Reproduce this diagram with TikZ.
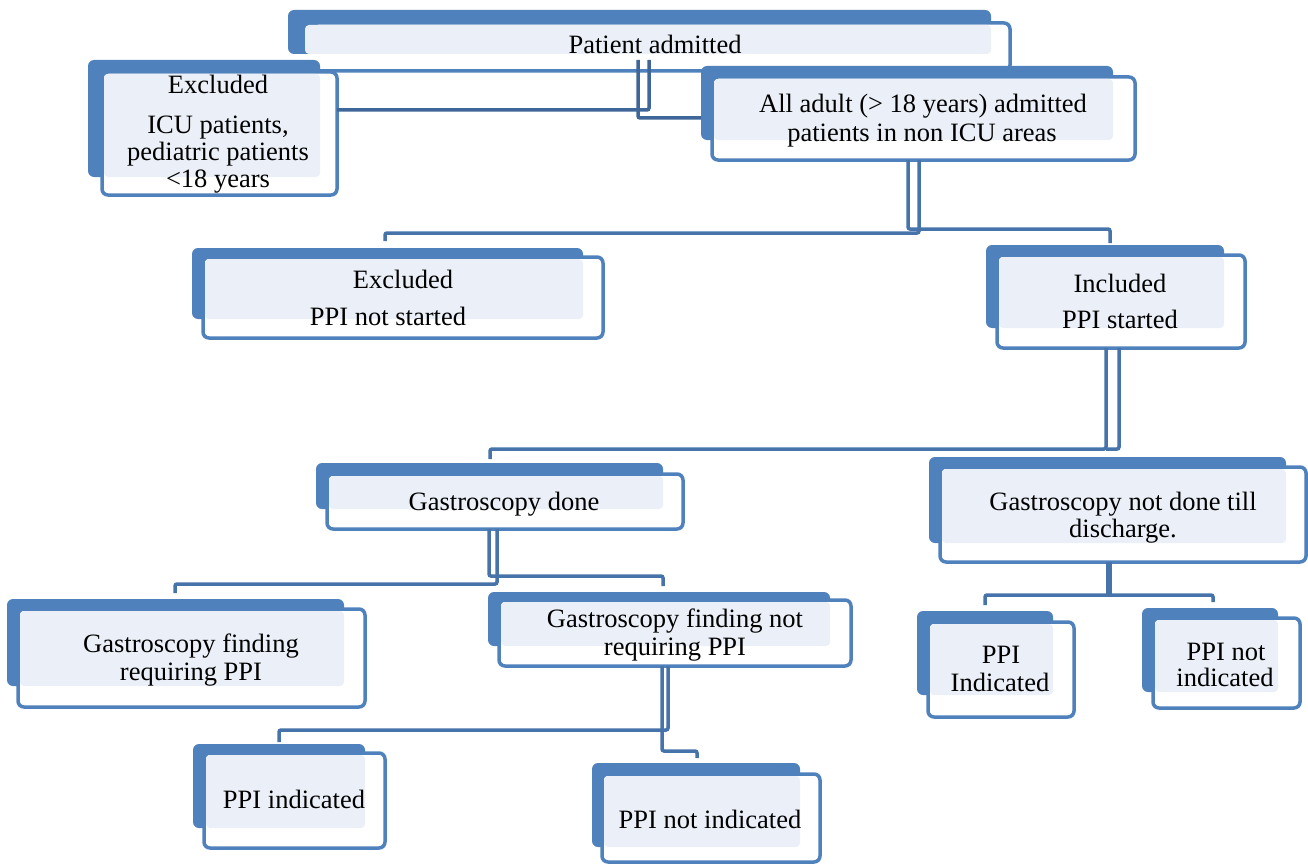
\documentclass[tikz,border=0pt]{standalone}
\usepackage{fontspec}
\setmainfont{Liberation Serif}
\newfontfamily\tnr{Liberation Serif}
\usetikzlibrary{fit,calc}
\definecolor{backblue}{RGB}{79,129,189}
\definecolor{lightfill}{RGB}{235,240,248}
\definecolor{conn}{RGB}{70,115,170}
\definecolor{conndark}{RGB}{62,102,152}
\tikzset{
  backshape/.style={fill=backblue, rounded corners=6pt},
  frontshape/.style={draw=backblue, line width=3.5pt, fill=white, rounded corners=6pt},
  lightshape/.style={fill=lightfill, rounded corners=4pt},
  txt/.style={anchor=base, inner sep=0pt, font=\tnr\fontsize{26.5}{28}\selectfont},
  link/.style={draw=conn, line width=3.5pt, rounded corners=2pt},
  linkdark/.style={link, draw=conndark},
  anchorbox/.style={inner sep=0pt, outer sep=0pt},
}
\newcommand{\flowbox}[9]{%
  \path[backshape] (#2,#3) rectangle (#4,#5);
  \path[frontshape] (#6,#7) rectangle (#8,#9);
  \path[lightshape] (#6+2,#7+2) rectangle (#4,#5);
  \node[anchorbox, fit={(#2,#3) (#4,#5)}] (#1b) {};
  \node[anchorbox, fit={(#6,#7) (#8,#9)}] (#1) {};
}
\begin{document}
\begin{tikzpicture}[x=1pt,y=-1pt]
\useasboundingbox (0,0) rectangle (1308,864);
% top box: its front frame is partly hidden on the left
\path[backshape] (288,10) rectangle (991,54);
\begin{scope}
  \clip (318,0) rectangle (1308,100);
  \path[frontshape] (303,23) rectangle (1010,71);
\end{scope}
\path[lightshape] (305,25) rectangle (991,54);
\node[anchorbox, fit={(288,10) (991,54)}] (PAb) {};
\node[anchorbox, fit={(303,23) (1010,71)}] (PA) {};
% boxes
\flowbox{EXA}{88}{60}{320}{177}{102}{72}{337}{195}
\flowbox{AA}{701}{66}{1113}{140}{712}{77}{1135}{160}
\flowbox{EXB}{192}{248}{583}{319}{203}{257}{603}{338}
\flowbox{IN}{986}{245}{1224}{328}{997}{255}{1245}{348}
\flowbox{GD}{316}{463}{663}{509}{327}{474}{683}{529}
\flowbox{GND}{929}{457}{1286}{543}{940}{467}{1306}{562}
\flowbox{PIA}{917}{611}{1053}{695}{928}{622}{1074}{717}
\flowbox{PNA}{1142}{608}{1278}{692}{1153}{618}{1300}{708}
\flowbox{GF}{7}{599}{344}{686}{18}{609}{365}{707}
\flowbox{GNF}{488}{592}{830}{646}{499}{600}{851}{666}
\flowbox{PIB}{193}{744}{365}{828}{204}{753}{385}{848}
\flowbox{PNB}{592}{763}{800}{847}{602}{774}{820}{862}
% connectors
\draw[linkdark] ($(PAb.south -| 649,0)+(0,6)$) -- (649,110) -- (EXA.east |- 0,110);
\draw[linkdark] ($(PAb.south -| 638,0)+(0,6)$) -- (638,118) -- (AAb.west |- 0,118);
\draw[link] (AA.south -| 919,0) -- (919,233) -- (385,233) -- ($(EXBb.north -| 385,0)+(0,-7)$);
\draw[link] (AA.south -| 908,0) -- (908,229) -- (1110,229) -- ($(INb.north -| 1110,0)+(0,-2)$);
\draw[link] (IN.south -| 1106,0) -- (1106,449) -- (490,449) -- ($(GDb.north -| 490,0)+(0,-4)$);
\draw[link] (IN.south -| 1119,0) -- (1119,449) -- (1106,449);
\draw[link] (GD.south -| 497,0) -- (497,584) -- (175,584) -- ($(GFb.north -| 175,0)+(0,-6)$);
\draw[link] (GD.south -| 489,0) -- (489,576) -- (663,576) -- ($(GNFb.north -| 663,0)+(0,-6)$);
\draw[link, line width=6pt] (GND.south -| 1109,0) -- (1109,595);
\draw[link] ($(PIAb.north -| 985,0)+(0,-6)$) -- (985,595) -- (1213,595) -- ($(PNAb.north -| 1213,0)+(0,-6)$);
\draw[link] (GNF.south -| 668,0) -- (668,730) -- (279,730) -- ($(PIBb.north -| 279,0)+(0,-2)$);
\draw[link] (GNF.south -| 662,0) -- (662,751) -- (697,751) -- ($(PNBb.north -| 697,0)+(0,-5)$);
% texts
\node[txt] (tPA) at (655,54) {Patient admitted};
\node[txt] (tEXA1) at (218,94) {Excluded};
\node[txt] (tEXA2) at (218,133) {ICU patients,};
\node[txt] (tEXA3) at (218,160) {pediatric patients};
\node[txt] (tEXA4) at (218,187) {<18 years};
\node[txt] (tAA1) at (923,113) {All adult (> 18 years) admitted};
\node[txt] (tAA2) at (922,141) {patients in non ICU areas};
\node[txt] (tEXB1) at (403,288) {Excluded};
\node[txt] (tEXB2) at (388,325) {PPI not started};
\node[txt] (tIN1) at (1120,292) {Included};
\node[txt] (tIN2) at (1120,328) {PPI started};
\node[txt] (tGD) at (504,510) {Gastroscopy done};
\node[txt] (tGND1) at (1123,510) {Gastroscopy not done till};
\node[txt] (tGND2) at (1123,537) {discharge.};
\node[txt] (tPIA1) at (1001,663) {PPI};
\node[txt] (tPIA2) at (1000,691) {Indicated};
\node[txt] (tPNA1) at (1226,660) {PPI not};
\node[txt] (tPNA2) at (1225,686) {indicated};
\node[txt] (tGF1) at (191,652) {Gastroscopy finding};
\node[txt] (tGF2) at (191,680) {requiring PPI};
\node[txt] (tGNF1) at (675,627) {Gastroscopy finding not};
\node[txt] (tGNF2) at (675,655) {requiring PPI};
\node[txt] (tPIB) at (294,808) {PPI indicated};
\node[txt] (tPNB) at (710,828) {PPI not indicated};
\end{tikzpicture}
\end{document}
